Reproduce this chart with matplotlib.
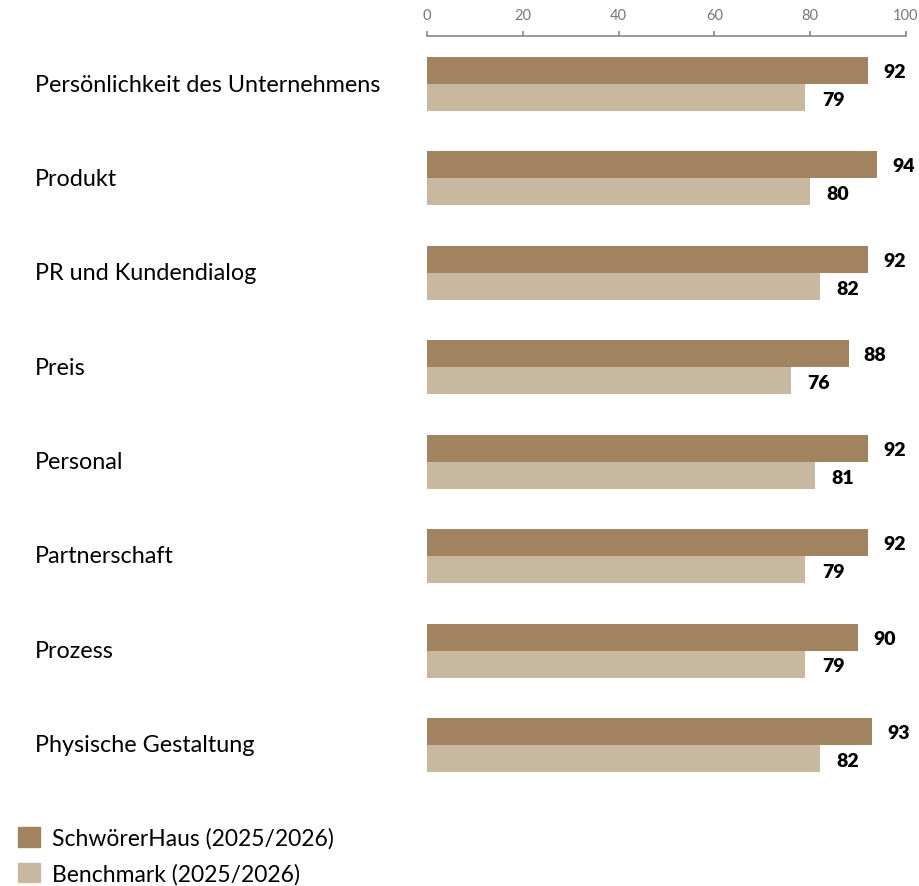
import numpy as np
import matplotlib
matplotlib.use('Agg')
import matplotlib.pyplot as plt
from matplotlib.patches import Patch

categories = ["Persönlichkeit des Unternehmens", "Produkt", "PR und Kundendialog", "Preis",
              "Personal", "Partnerschaft", "Prozess", "Physische Gestaltung"]
schwoerer = [92, 94, 92, 88, 92, 92, 90, 93]
benchmark = [79, 80, 82, 76, 81, 79, 79, 82]
series_names = ["SchwörerHaus (2025/2026)", "Benchmark (2025/2026)"]
ticks = [0, 20, 40, 60, 80, 100]

dark = '#a2835f'
light = '#c8b8a0'
plt.rcParams['font.family'] = ['Lato', 'DejaVu Sans']

W, H = 919, 887
fig = plt.figure(figsize=(W / 100, H / 100), dpi=100)
ax = fig.add_axes([427 / W, 1 - 794 / H, (906 - 427) / W, (794 - 37) / H])

y = np.arange(len(categories))
h = 0.286
ax.barh(y - h / 2, schwoerer, height=h, color=dark)
ax.barh(y + h / 2, benchmark, height=h, color=light)

for i in range(len(categories)):
    ax.annotate(str(schwoerer[i]), (schwoerer[i], y[i] - h / 2 + 0.01), xytext=(11, 0),
                textcoords='offset points', va='center', ha='left',
                fontsize=14, fontweight='heavy', color='black')
    ax.annotate(str(benchmark[i]), (benchmark[i], y[i] + h / 2 + 0.02), xytext=(12, 0),
                textcoords='offset points', va='center', ha='left',
                fontsize=14, fontweight='heavy', color='black')
    fig.text(35 / W, 1 - (85 + i * 94.4) / H, categories[i], fontsize=16.8,
             va='center', ha='left', color='black')

ax.set_xlim(0, 100)
ax.set_ylim(len(categories) - 1 + 0.508, -0.508)
ax.xaxis.tick_top()
ax.set_xticks(ticks)
ax.tick_params(axis='x', colors='#888888', labelcolor='#777777', labelsize=10.5,
               length=3.5, width=1.2, pad=6.5)
ax.set_yticks([])
for s in ['left', 'right', 'bottom']:
    ax.spines[s].set_visible(False)
ax.spines['top'].set_color('#888888')
ax.spines['top'].set_linewidth(1.2)

handles = [Patch(color=dark), Patch(color=light)]
fig.legend(handles, series_names, loc='upper left', bbox_to_anchor=(2 / W, 1 - 812 / H),
           frameon=False, fontsize=16.5, handlelength=0.95, handleheight=0.95,
           handletextpad=0.55, labelspacing=0.6, borderpad=0.2)

fig.savefig('out.png', dpi=100, facecolor='white')
